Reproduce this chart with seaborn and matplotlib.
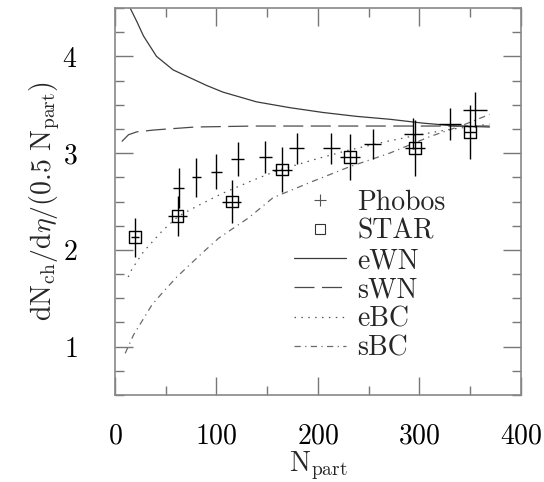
import matplotlib
matplotlib.use("Agg")
import matplotlib.pyplot as plt
from matplotlib.lines import Line2D
from matplotlib.ticker import MultipleLocator
import seaborn as sns
import pandas as pd

# ---- data ----
phobos_x = [63, 80, 100, 121, 148, 179, 213, 254, 294, 330, 355]
phobos_y = [2.64, 2.75, 2.81, 2.94, 2.96, 3.05, 3.05, 3.09, 3.20, 3.30, 3.45]
phobos_yerr = [0.21, 0.20, 0.18, 0.18, 0.17, 0.16, 0.16, 0.155, 0.16, 0.165, 0.18]
phobos_xerr = [5.4, 4.6, 5.4, 6.3, 6.6, 7.2, 8.5, 8.2, 9.0, 11.0, 12.0]

star_x = [19.8, 61.6, 115, 164.6, 231.6, 295.7, 349.6]
star_y = [2.13, 2.35, 2.50, 2.83, 2.96, 3.05, 3.22]
star_yerr = [0.20, 0.21, 0.22, 0.23, 0.24, 0.29, 0.28]
star_xerr = [4, 9, 9.5, 10, 10, 10, 6]

ewn_x = [14.9, 21.5, 28.1, 40.9, 57.3, 73.7, 90.1, 106.5, 123, 139.4, 172.2, 205, 237.9, 270.7, 303.5, 336.5, 369]
ewn_y = [4.50, 4.36, 4.21, 4.00, 3.86, 3.78, 3.70, 3.63, 3.58, 3.53, 3.47, 3.42, 3.38, 3.35, 3.31, 3.28, 3.27]

swn_x = [6.7, 13.3, 21.5, 39.5, 79, 138, 200, 260, 320, 369]
swn_y = [3.12, 3.19, 3.22, 3.24, 3.27, 3.28, 3.28, 3.28, 3.28, 3.28]

ebc_x = [13, 16.6, 28, 46, 62.6, 82.3, 105, 136, 160, 198.5, 230, 267.5, 300, 326.6, 369]
ebc_y = [1.72, 1.80, 1.98, 2.19, 2.35, 2.46, 2.58, 2.72, 2.82, 2.94, 3.03, 3.12, 3.19, 3.24, 3.30]

sbc_x = [10, 18.2, 26.4, 36.3, 47.8, 60.9, 74, 87.2, 102, 131.5, 155.8, 195.2, 231.3, 270.7, 310, 343, 369]
sbc_y = [0.93, 1.12, 1.26, 1.43, 1.57, 1.72, 1.85, 1.98, 2.12, 2.33, 2.54, 2.71, 2.86, 3.00, 3.17, 3.29, 3.40]

x_ticks = [0, 100, 200, 300, 400]
y_ticks = [1, 2, 3, 4]

# ---- style ----
sns.set_theme(style="ticks")
plt.rcParams["font.family"] = ["cmr10", "DejaVu Serif"]
plt.rcParams["mathtext.fontset"] = "cm"
plt.rcParams["axes.formatter.use_mathtext"] = True
plt.rcParams["axes.unicode_minus"] = False

FS = 20
fig = plt.figure(figsize=(5.44, 4.82), dpi=100)
ax = fig.add_axes([0.2114, 0.1805, 0.7463, 0.8029])

curves = [
    ("eWN", ewn_x, ewn_y, "#3a3a3a", (None, None)),
    ("sWN", swn_x, swn_y, "#4a4a4a", (16, 6)),
    ("eBC", ebc_x, ebc_y, "#555555", (1.2, 4.3)),
    ("sBC", sbc_x, sbc_y, "#6a6a6a", (5, 3.5, 1, 3.5)),
]
for name, xs, ys, col, dash in curves:
    df = pd.DataFrame({"x": xs, "y": ys})
    sns.lineplot(data=df, x="x", y="y", ax=ax, color=col, linewidth=0.9,
                 sort=False, estimator=None, legend=False)
    l = ax.lines[-1]
    if dash[0] is not None:
        l.set_dashes(dash)

# Phobos crosses (error bars only)
ax.errorbar(phobos_x, phobos_y, yerr=phobos_yerr, xerr=phobos_xerr, fmt="none",
            ecolor="black", elinewidth=1.0, capsize=0)
# STAR squares with error bars
ax.errorbar(star_x, star_y, yerr=star_yerr, xerr=star_xerr, fmt="none",
            ecolor="black", elinewidth=1.0, capsize=0)
sns.scatterplot(x=star_x, y=star_y, ax=ax, marker="s", s=70,
                facecolor="none", edgecolor="black", linewidth=1.0, zorder=5)

ax.set_xlim(0, 400)
ax.set_ylim(0.5, 4.5)
ax.set_xticks(x_ticks)
ax.set_yticks(y_ticks)
ax.xaxis.set_minor_locator(MultipleLocator(50))
ax.yaxis.set_minor_locator(MultipleLocator(0.25))
ax.tick_params(which="both", direction="in", top=True, right=True, colors="#777777",
               labelcolor="black", labelsize=FS)
ax.tick_params(which="major", length=13, width=1.0)
ax.tick_params(which="minor", length=6.5, width=1.0)
ax.tick_params(axis="x", which="major", pad=20)
ax.tick_params(axis="y", which="major", pad=27)
for sp in ax.spines.values():
    sp.set_color("#888888")
    sp.set_linewidth(1.2)

ax.set_xlabel(r"$\mathrm{N_{part}}$", fontsize=FS, labelpad=0)
ax.set_ylabel(r"$\mathrm{dN_{ch}/d}\eta\mathrm{/(0.5\ N_{part})}$", fontsize=FS, labelpad=0)

handles = [
    Line2D([], [], linestyle="none", marker="+", color="#555555", markersize=8, markeredgewidth=0.8),
    Line2D([], [], linestyle="none", marker="s", markerfacecolor="none", markeredgecolor="#333333", markersize=7, markeredgewidth=0.8),
    Line2D([], [], color="#3a3a3a", linewidth=0.9),
    Line2D([], [], color="#4a4a4a", linewidth=0.9, dashes=(16, 6)),
    Line2D([], [], color="#555555", linewidth=0.9, dashes=(1.2, 4.3)),
    Line2D([], [], color="#6a6a6a", linewidth=0.9, dashes=(5, 3.5, 1, 3.5)),
]
labels = ["Phobos", "STAR", "eWN", "sWN", "eBC", "sBC"]
ax.legend(handles, labels, loc="upper left", bbox_to_anchor=(0.44, 0.531), frameon=False,
          fontsize=FS, handlelength=1.9, handletextpad=0.4, labelspacing=0.1,
          borderpad=0, borderaxespad=0)

fig.savefig("out.png", dpi=100)
